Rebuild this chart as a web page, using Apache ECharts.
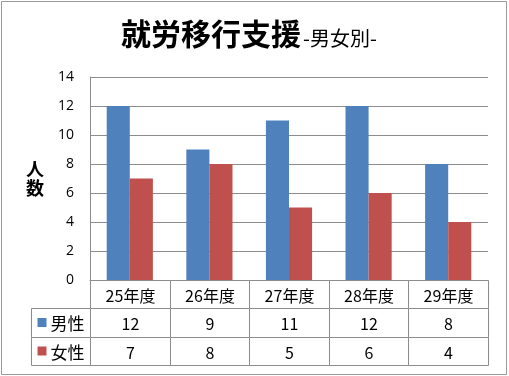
<!DOCTYPE html>
<html>
<head>
<meta charset="utf-8">
<script src="https://cdn.jsdelivr.net/npm/echarts@6/dist/echarts.min.js"></script>
<style>
  html, body { margin: 0; padding: 0; background: #fff; }
  #main { width: 509px; height: 376px; }
</style>
</head>
<body>
<div id="main"></div>
<script>
// 年度ごとの人数
const categories = ['25年度', '26年度', '27年度', '28年度', '29年度'];
const male = [12, 9, 11, 12, 8];
const female = [7, 8, 5, 6, 4];
const seriesNames = ['男性', '女性'];

const colors = ['#4F81BD', '#C0504D'];
const lineColor = '#8c8c8c';
const jp = '"Noto Sans CJK JP", sans-serif';
const headW = 0.741; // 見出し列の幅 (カテゴリ幅比)

// 表のセル: [列, 行, 文字, 凡例色]
const cells = [];
categories.forEach((c, i) => cells.push([i, 0, c, null]));
[male, female].forEach((arr, s) => {
    cells.push([-1, s + 1, seriesNames[s], colors[s]]);
    arr.forEach((v, i) => cells.push([i, s + 1, String(v), null]));
});

const chart = echarts.init(document.getElementById('main'), null, { renderer: 'canvas' });

function renderCell(params, api) {
    const cell = cells[params.dataIndex];
    const c = cell[0], r = cell[1];
    const x0 = c < 0 ? -headW : c;
    const x1 = c < 0 ? 0 : c + 1;
    const p0 = api.coord([x0, r]);
    const p1 = api.coord([x1, r + 1]);
    const left = Math.round(p0[0]) + 0.5, top = Math.round(p0[1]) + 0.5;
    const w = Math.round(p1[0]) - Math.round(p0[0]);
    const h = Math.round(p1[1]) - Math.round(p0[1]);
    const children = [{
        type: 'rect',
        shape: { x: left, y: top, width: w, height: h },
        style: { fill: '#fff', stroke: lineColor, lineWidth: 1 }
    }];
    if (cell[3]) {
        children.push({
            type: 'rect',
            shape: { x: left + 6, y: top + h / 2 - 5, width: 9, height: 9 },
            style: { fill: cell[3] }
        });
        children.push({
            type: 'text',
            style: {
                text: cell[2], x: left + 19, y: top + h / 2 + 1,
                font: '17px ' + jp, fill: '#000',
                align: 'left', verticalAlign: 'middle'
            }
        });
    } else {
        children.push({
            type: 'text',
            style: {
                text: cell[2], x: left + w / 2, y: top + h / 2 + 1,
                font: '16px ' + jp, fill: '#000',
                align: 'center', verticalAlign: 'middle'
            }
        });
    }
    return { type: 'group', children };
}

const option = {
    animation: false,
    color: colors,
    title: {
        left: 116,
        top: 14,
        text: '{a|就労移行支援}{b|-男女別-}',
        textStyle: {
            rich: {
                a: { fontFamily: jp, fontSize: 30, fontWeight: 'bold', color: '#000' },
                b: { fontFamily: jp, fontSize: 20, fontWeight: 'normal', color: '#000', padding: [8, 0, 0, 2] }
            }
        }
    },
    graphic: [{
        type: 'rect',
        shape: { x: 1.5, y: 1.5, width: 505, height: 373 },
        style: { fill: 'none', stroke: '#9a9a9a', lineWidth: 1 },
        silent: true
    }],
    grid: [
        { left: 90, right: 21, top: 77, bottom: 96 },
        { left: 31, right: 21, top: 280, bottom: 11 }
    ],
    xAxis: [
        {
            type: 'category',
            data: categories,
            gridIndex: 0,
            axisLine: { show: true, lineStyle: { color: lineColor } },
            axisTick: { show: false },
            axisLabel: { show: false }
        },
        {
            type: 'value',
            gridIndex: 1,
            min: -headW,
            max: categories.length,
            show: false
        }
    ],
    yAxis: [
        {
            type: 'value',
            gridIndex: 0,
            min: 0,
            max: 14,
            interval: 2,
            name: '人\n数',
            nameLocation: 'middle',
            nameRotate: 0,
            nameGap: 46,
            nameTextStyle: { fontFamily: jp, fontSize: 18, fontWeight: 'bold', color: '#000', lineHeight: 19 },
            axisLine: { show: true, lineStyle: { color: lineColor } },
            axisTick: { show: false },
            axisLabel: { fontFamily: '"Open Sans", sans-serif', fontSize: 14, color: '#000', margin: 16 },
            splitLine: { show: true, lineStyle: { color: lineColor } }
        },
        {
            type: 'value',
            gridIndex: 1,
            min: 0,
            max: 3,
            inverse: true,
            show: false
        }
    ],
    series: [
        {
            name: seriesNames[0],
            type: 'bar',
            xAxisIndex: 0,
            yAxisIndex: 0,
            barGap: '0%',
            barCategoryGap: '42%',
            data: male
        },
        {
            name: seriesNames[1],
            type: 'bar',
            xAxisIndex: 0,
            yAxisIndex: 0,
            barGap: '0%',
            barCategoryGap: '42%',
            data: female
        },
        {
            type: 'custom',
            xAxisIndex: 1,
            yAxisIndex: 1,
            silent: true,
            renderItem: renderCell,
            data: cells.map(c => [c[0], c[1]])
        }
    ]
};

chart.setOption(option);
</script>
</body>
</html>
